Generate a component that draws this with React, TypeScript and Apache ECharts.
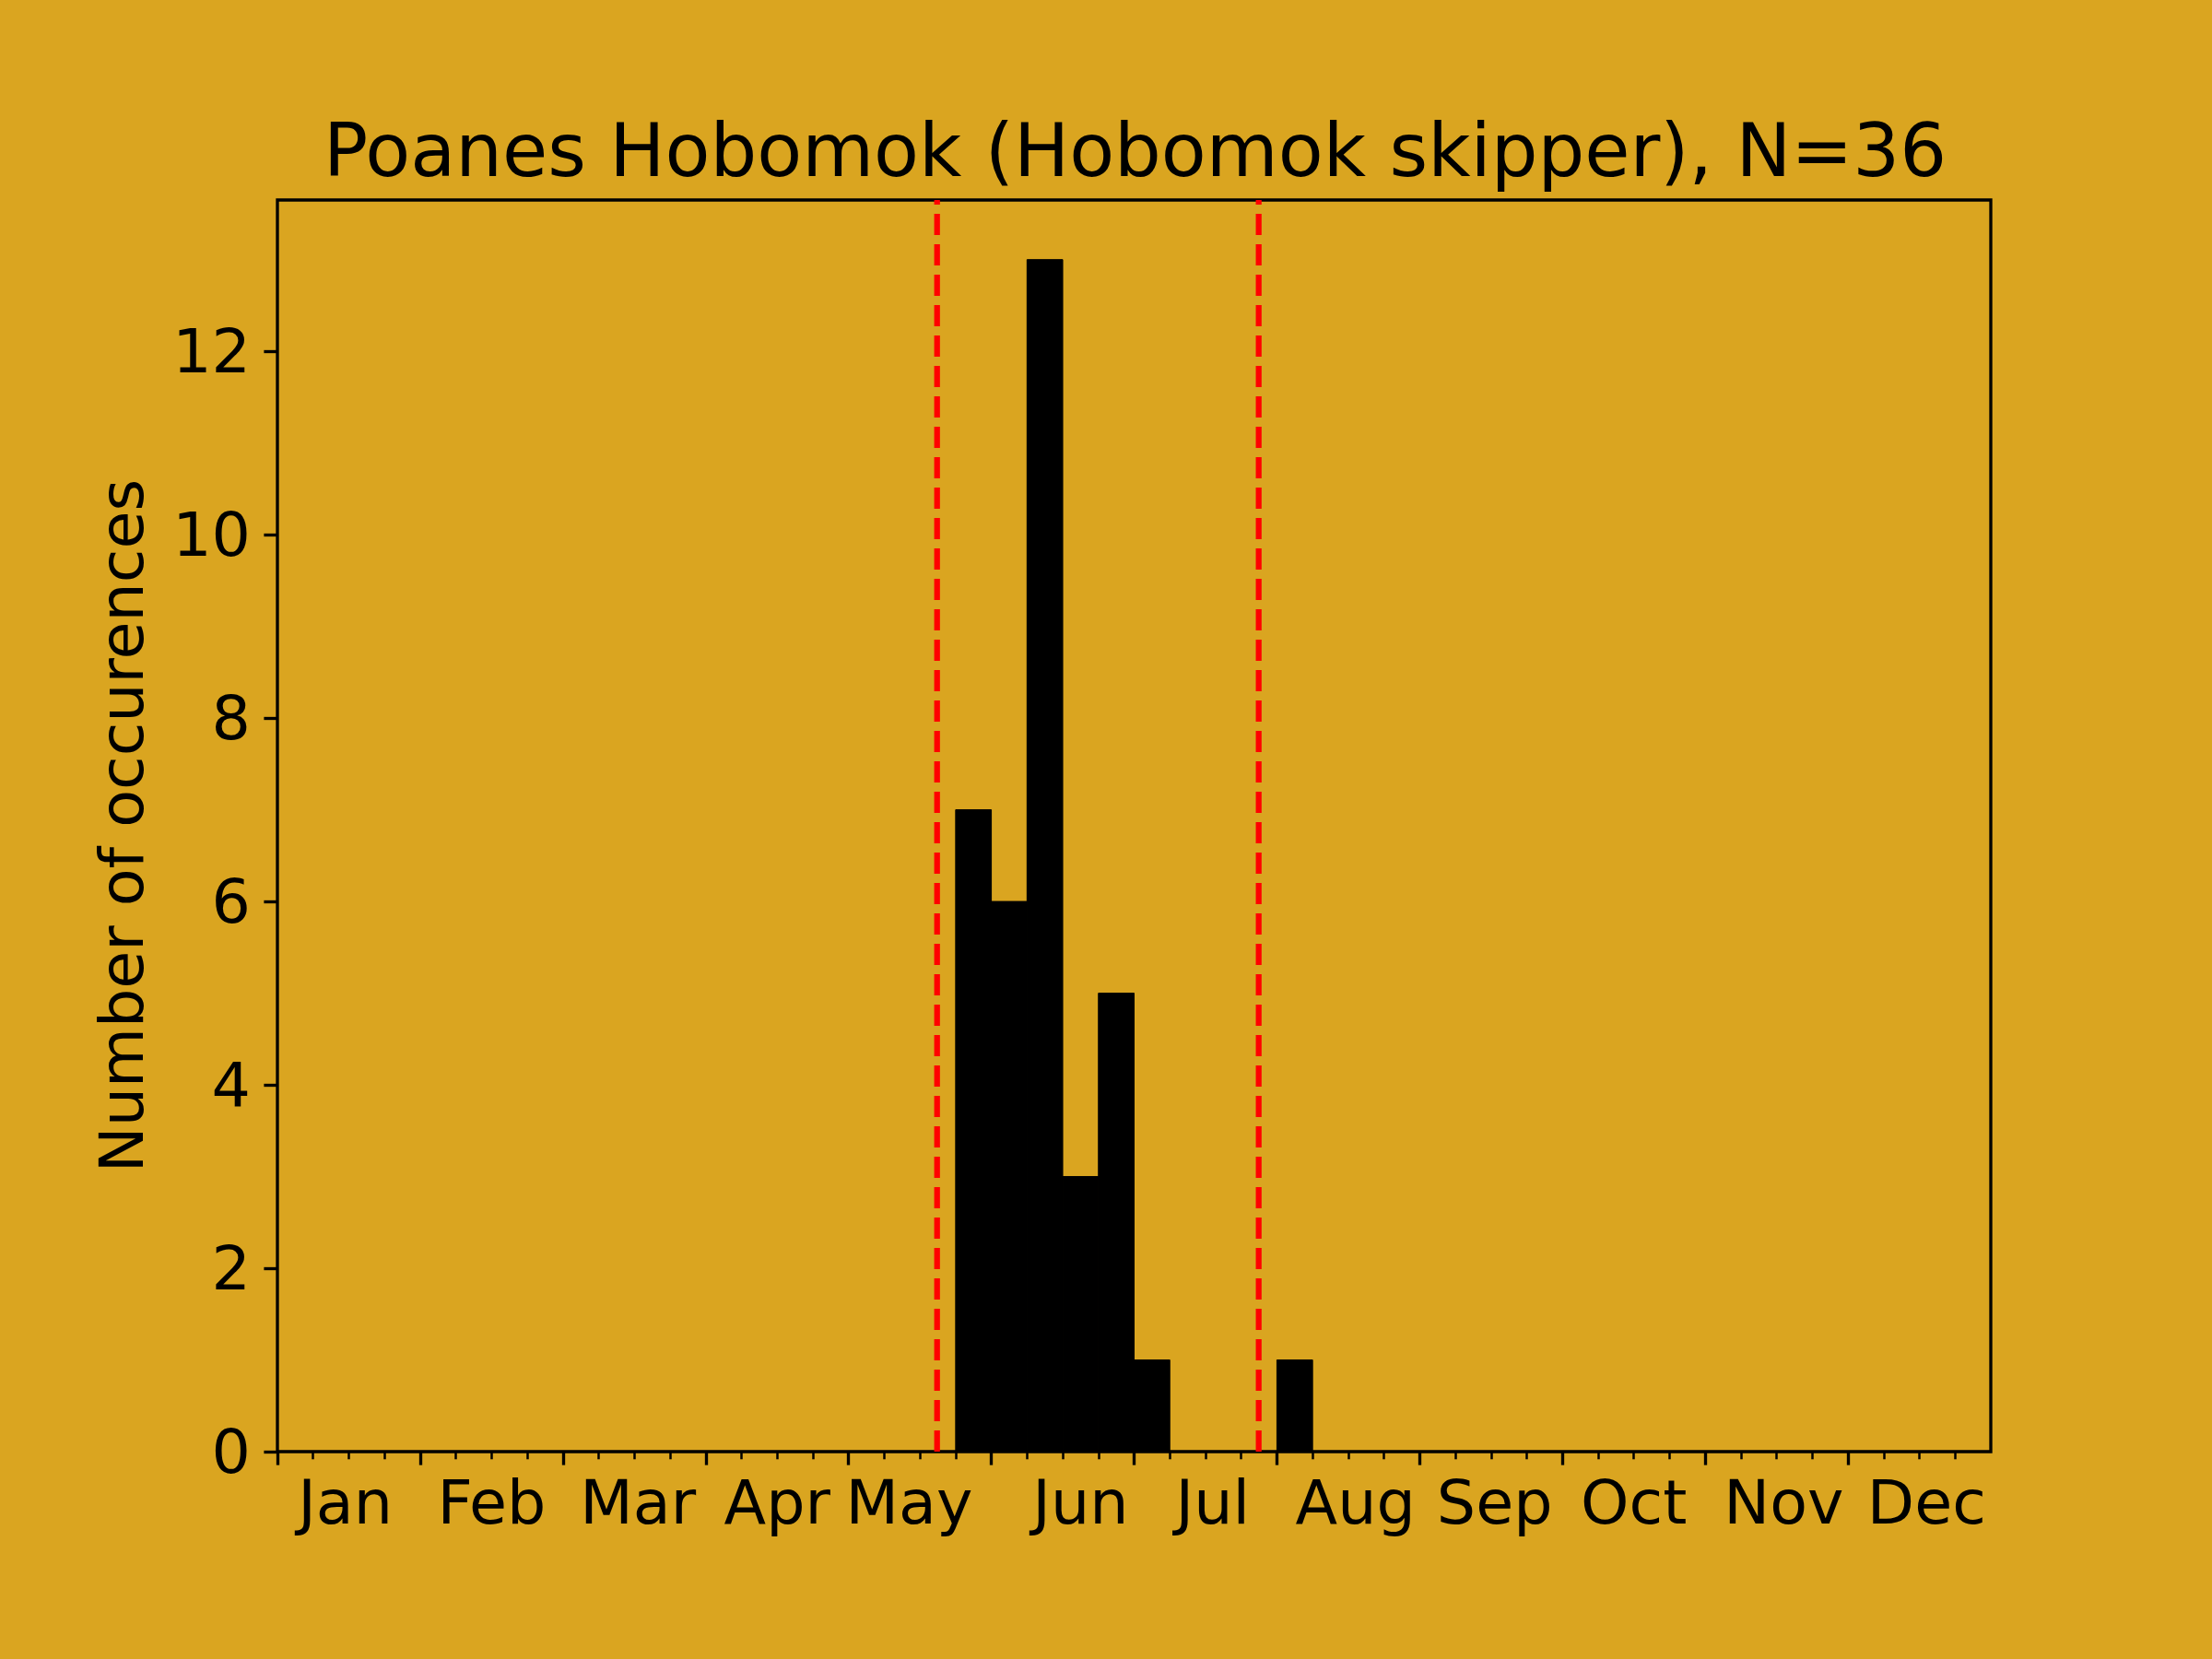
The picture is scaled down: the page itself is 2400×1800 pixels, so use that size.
import React, { useEffect, useRef } from "react";
import * as echarts from "echarts";

const titleText = "Poanes Hobomok (Hobomok skipper), N=36";
const yAxisName = "Number of occurences";
const monthLabels = ["Jan", "Feb", "Mar", "Apr", "May", "Jun", "Jul", "Aug", "Sep", "Oct", "Nov", "Dec"];
// where each month label sits on the week axis
const monthLabelPos = [1.9, 6.0, 10.1, 14.0, 17.7, 22.5, 26.2, 30.2, 34.1, 38.0, 42.2, 46.2];
// weekly bins (4 per month, 48 total)
const weekCounts = [
  0, 0, 0, 0, 0, 0, 0, 0, 0, 0, 0, 0,
  0, 0, 0, 0, 0, 0, 0, 7, 6, 13, 3, 5,
  1, 0, 0, 0, 1, 0, 0, 0, 0, 0, 0, 0,
  0, 0, 0, 0, 0, 0, 0, 0, 0, 0, 0, 0,
];
const thresholdWeeks = [18.48, 27.49];
const xMin = 0;
const xMax = 48;
const majorTickMax = 44;
const minorTickMax = 47;
const yMax = 13.65;
const yTickMax = 12;
const labelSteps = 10; // label slots per week

const FONT = "DejaVu Sans";
const BG = "#DAA520";

export default function App() {
  const ref = useRef<HTMLDivElement>(null);
  useEffect(() => {
    if (!ref.current) return;
    const chart = echarts.init(ref.current, null, { renderer: "svg" });
    const plotLeft = 301;
    const plotTop = 217;
    const plotW = 1859;
    const plotH = 1358;
    const plotBottom = plotTop + plotH;
    const tickGridH = (plotH * yTickMax) / yMax;
    const weekW = plotW / (xMax - xMin);

    // category slots at 0.1-week resolution, month names at their label positions
    const slotCount = (xMax - xMin) * labelSteps + 1;
    const slots: string[] = new Array(slotCount).fill("");
    monthLabelPos.forEach((p, i) => {
      slots[Math.round((p - xMin) * labelSteps)] = monthLabels[i];
    });

    const series: any[] = [
      {
        type: "custom",
        xAxisIndex: 0,
        yAxisIndex: 0,
        data: weekCounts.map((v, i) => [i, v]),
        renderItem: (params: any, api: any) => {
          const x0 = api.value(0);
          const v = api.value(1);
          if (!v) return null;
          const p0 = api.coord([x0, 0]);
          const p1 = api.coord([x0 + 1, v]);
          return {
            type: "rect",
            shape: { x: p0[0], y: p1[1], width: p1[0] - p0[0], height: p0[1] - p1[1] },
            style: { fill: "#000", stroke: "#000", lineWidth: 1 },
          };
        },
        z: 2,
      },
    ];
    thresholdWeeks.forEach((t) => {
      series.push({
        type: "line",
        xAxisIndex: 0,
        yAxisIndex: 0,
        data: [
          [t, 0],
          [t, yMax],
        ],
        symbol: "none",
        lineStyle: { color: "#ff0000", width: 6.25, type: [23, 10] },
        z: 3,
      });
    });

    const hiddenY = (gridIndex: number) => ({
      type: "value",
      gridIndex,
      min: 0,
      max: 1,
      show: false,
    });

    chart.setOption({
      animation: false,
      backgroundColor: BG,
      title: {
        text: titleText,
        left: plotLeft + plotW / 2 - 4,
        textAlign: "center",
        top: 118,
        textStyle: { fontFamily: FONT, fontSize: 80, fontWeight: "normal", color: "#000" },
      },
      grid: [
        {
          left: plotLeft,
          top: plotTop,
          width: plotW,
          height: plotH,
          show: true,
          borderColor: "#000",
          borderWidth: 3.33,
          backgroundColor: "transparent",
          containLabel: false,
        },
        {
          left: plotLeft,
          top: plotBottom - tickGridH,
          width: plotW,
          height: tickGridH,
          containLabel: false,
        },
        {
          left: plotLeft,
          top: plotTop,
          width: weekW * (majorTickMax - xMin),
          height: plotH,
          containLabel: false,
        },
        {
          left: plotLeft,
          top: plotTop,
          width: weekW * (minorTickMax - xMin),
          height: plotH,
          containLabel: false,
        },
      ],
      xAxis: [
        {
          type: "value",
          gridIndex: 0,
          position: "bottom",
          min: xMin,
          max: xMax,
          axisLine: { show: false },
          axisTick: { show: false },
          axisLabel: { show: false },
          splitLine: { show: false },
        },
        {
          type: "category",
          gridIndex: 0,
          position: "bottom",
          data: slots,
          boundaryGap: false,
          axisLine: { show: false },
          axisTick: { show: false },
          splitLine: { show: false },
          axisLabel: {
            show: true,
            interval: (index: number, value: string) => value !== "",
            margin: 21,
            fontFamily: FONT,
            fontSize: 66.67,
            color: "#000",
            hideOverlap: false,
          },
        },
        {
          type: "value",
          gridIndex: 1,
          min: xMin,
          max: xMax,
          show: false,
        },
        {
          // major ticks (month boundaries)
          type: "value",
          gridIndex: 2,
          position: "bottom",
          min: xMin,
          max: majorTickMax,
          interval: 4,
          axisLine: { show: false },
          axisTick: { show: true, length: 14.6, lineStyle: { color: "#000", width: 3.33 } },
          axisLabel: { show: false },
          splitLine: { show: false },
          z: 4,
        },
        {
          // minor ticks (weeks)
          type: "value",
          gridIndex: 3,
          position: "bottom",
          min: xMin,
          max: minorTickMax,
          interval: 1,
          axisLine: { show: false },
          axisTick: { show: true, length: 8.3, lineStyle: { color: "#000", width: 2.5 } },
          axisLabel: { show: false },
          splitLine: { show: false },
          z: 3,
        },
      ],
      yAxis: [
        {
          type: "value",
          gridIndex: 0,
          min: 0,
          max: yMax,
          axisLine: { show: false },
          axisTick: { show: false },
          axisLabel: { show: false },
          splitLine: { show: false },
          name: yAxisName,
          nameLocation: "middle",
          nameGap: 136,
          nameTextStyle: { fontFamily: FONT, fontSize: 66.67, color: "#000" },
        },
        {
          type: "value",
          gridIndex: 1,
          min: 0,
          max: yTickMax,
          interval: 2,
          axisLine: { show: false },
          axisTick: { show: true, length: 14.6, lineStyle: { color: "#000", width: 3.33 } },
          axisLabel: { show: true, margin: 29, fontFamily: FONT, fontSize: 66.67, color: "#000" },
          splitLine: { show: false },
        },
        hiddenY(2),
        hiddenY(3),
      ],
      series,
    });
    return () => chart.dispose();
  }, []);
  return (
    <div
      ref={ref}
      style={{ position: "fixed", left: 0, top: 0, width: 2400, height: 1800 }}
    />
  );
}
